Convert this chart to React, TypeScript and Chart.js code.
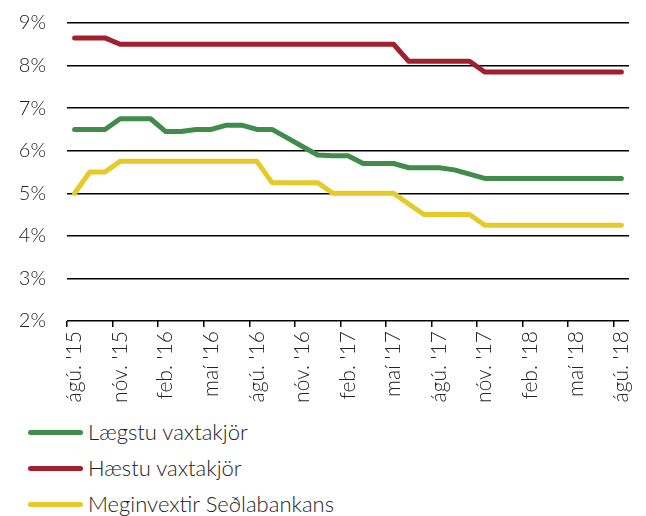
import React, { useEffect, useRef } from "react";
import { Chart, registerables } from "chart.js";

Chart.register(...registerables);

// 37 monthly categories, Aug 2015 – Aug 2018
const categories = [
  "ágú. '15", "sep. '15", "okt. '15", "nóv. '15", "des. '15", "jan. '16",
  "feb. '16", "mar. '16", "apr. '16", "maí '16", "jún. '16", "júl. '16",
  "ágú. '16", "sep. '16", "okt. '16", "nóv. '16", "des. '16", "jan. '17",
  "feb. '17", "mar. '17", "apr. '17", "maí '17", "jún. '17", "júl. '17",
  "ágú. '17", "sep. '17", "okt. '17", "nóv. '17", "des. '17", "jan. '18",
  "feb. '18", "mar. '18", "apr. '18", "maí '18", "jún. '18", "júl. '18",
  "ágú. '18",
];
const tickEvery = 3;

const lowestRates = [
  6.5, 6.5, 6.5, 6.75, 6.75, 6.75, 6.45, 6.45, 6.5, 6.5, 6.6, 6.6,
  6.5, 6.5, 6.3, 6.1, 5.9, 5.88, 5.88, 5.7, 5.7, 5.7, 5.6, 5.6,
  5.6, 5.55, 5.45, 5.35, 5.35, 5.35, 5.35, 5.35, 5.35, 5.35, 5.35, 5.35,
  5.35,
];
const highestRates = [
  8.65, 8.65, 8.65, 8.5, 8.5, 8.5, 8.5, 8.5, 8.5, 8.5, 8.5, 8.5,
  8.5, 8.5, 8.5, 8.5, 8.5, 8.5, 8.5, 8.5, 8.5, 8.5, 8.1, 8.1,
  8.1, 8.1, 8.1, 7.85, 7.85, 7.85, 7.85, 7.85, 7.85, 7.85, 7.85, 7.85,
  7.85,
];
const policyRate = [
  5.0, 5.5, 5.5, 5.75, 5.75, 5.75, 5.75, 5.75, 5.75, 5.75, 5.75, 5.75,
  5.75, 5.25, 5.25, 5.25, 5.25, 5.0, 5.0, 5.0, 5.0, 5.0, 4.75, 4.5,
  4.5, 4.5, 4.5, 4.25, 4.25, 4.25, 4.25, 4.25, 4.25, 4.25, 4.25, 4.25,
  4.25,
];

const seriesNames = ["Lægstu vaxtakjör", "Hæstu vaxtakjör", "Meginvextir Seðlabankans"];
const seriesColors = ["#3f8c4b", "#a11f2e", "#e5ca2a"];
const yMin = 2;
const yMax = 9;
const yStep = 1;

const FONT = "Lato, 'Open Sans', sans-serif";
const TEXT = "#222222";

export default function App() {
  const canvasRef = useRef<HTMLCanvasElement | null>(null);

  useEffect(() => {
    if (!canvasRef.current) return;
    const seriesData = [lowestRates, highestRates, policyRate];
    const chart = new Chart(canvasRef.current, {
      type: "line",
      data: {
        labels: categories,
        datasets: seriesNames.map((name, i) => ({
          label: name,
          data: seriesData[i],
          borderColor: seriesColors[i],
          backgroundColor: seriesColors[i],
          borderWidth: 5,
          pointRadius: 0,
          pointHoverRadius: 0,
          tension: 0,
          borderCapStyle: "round" as const,
          borderJoinStyle: "round" as const,
          fill: false,
        })),
      },
      options: {
        animation: false,
        responsive: false,
        events: [],
        layout: { padding: { top: 15, right: 9, left: 0, bottom: 0 } },
        plugins: {
          legend: { display: false },
          tooltip: { enabled: false },
        },
        scales: {
          x: {
            type: "category",
            offset: true,
            afterFit: (scale: any) => {
              scale.height = 90;
              scale.paddingLeft = 0;
              scale.paddingRight = 0;
            },
            border: { display: false },
            grid: {
              offset: true,
              drawOnChartArea: false,
              drawTicks: true,
              tickLength: 6,
              lineWidth: 1.5,
              color: (ctx: any) =>
                typeof ctx.index === "number" && ctx.index % tickEvery === 0 ? "#000" : "rgba(0,0,0,0)",
            },
            ticks: {
              autoSkip: false,
              minRotation: 90,
              maxRotation: 90,
              padding: 4,
              color: TEXT,
              font: { family: FONT, size: 21, weight: "300" as any },
              callback: (_v: any, index: number) => (index % tickEvery === 0 ? categories[index] : ""),
            },
          },
          y: {
            min: yMin,
            max: yMax,
            afterFit: (scale: any) => {
              scale.width = 59;
              scale.paddingTop = 0;
              scale.paddingBottom = 0;
            },
            border: { display: false },
            grid: {
              drawTicks: false,
              color: "#000",
              lineWidth: 1.5,
            },
            ticks: {
              stepSize: yStep,
              padding: 21,
              color: TEXT,
              font: { family: FONT, size: 20, weight: "300" as any },
              callback: (v: any) => `${v}%`,
            },
          },
        },
      },
    });
    return () => chart.destroy();
  }, []);

  return (
    <div style={{ position: "relative", width: 630, height: 508 }}>
      <canvas ref={canvasRef} width={630} height={403} style={{ display: "block" }} />
      <div style={{ position: "absolute", left: 20, top: 406 }}>
        {seriesNames.map((name, i) => (
          <div
            key={name}
            style={{ display: "flex", alignItems: "center", height: 36 }}
          >
            <div
              style={{
                width: 55,
                height: 5,
                borderRadius: 3,
                background: seriesColors[i],
                marginRight: 5,
              }}
            />
            <span
              style={{
                fontFamily: FONT,
                fontWeight: 300,
                fontSize: 22,
                color: TEXT,
                lineHeight: "26px",
                whiteSpace: "nowrap",
              }}
            >
              {name}
            </span>
          </div>
        ))}
      </div>
    </div>
  );
}
